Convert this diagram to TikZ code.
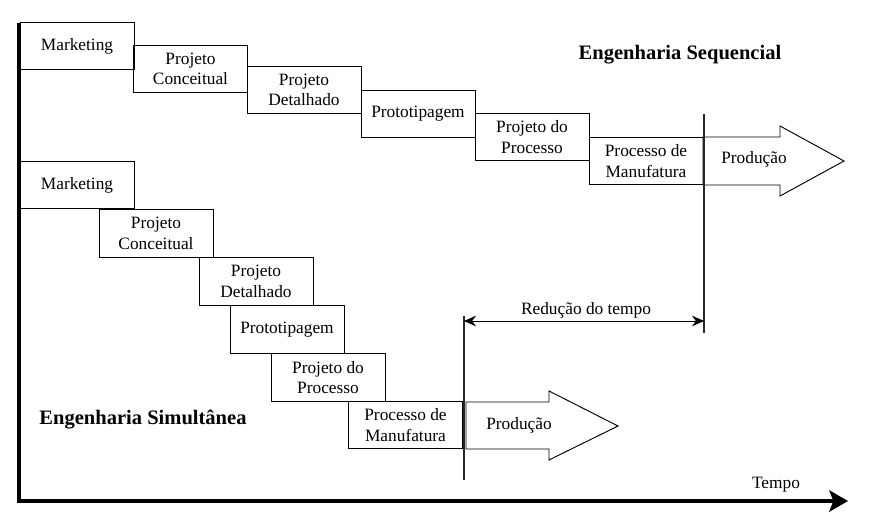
\documentclass[tikz,border=0pt]{standalone}
\usepackage{fontspec}
\setmainfont{Liberation Serif}
\usetikzlibrary{arrows.meta}
\tikzset{
  etapa/.style={draw,line width=0.7pt,minimum width=85.5pt,minimum height=35.6pt,
    inner sep=0pt,align=center,font=\fontsize{13}{15.5}\selectfont},
  rotulo/.style={inner sep=0pt,font=\fontsize{13}{15.5}\selectfont},
  titulo/.style={inner sep=0pt,font=\bfseries\fontsize{15.4}{18}\selectfont},
  producao/.style={draw,line width=0.7pt,fill=white},
  eixo/.style={line width=3.6pt,-{Stealth[length=14pt,width=16pt,inset=3pt]}},
  marco/.style={line width=0.8pt,black!85},
  cota/.style={line width=0.7pt,{Stealth[length=9pt,width=8pt]}-{Stealth[length=9pt,width=8pt]}},
}

\begin{document}
\begin{tikzpicture}[x=0.75pt,y=-0.75pt]
  \useasboundingbox (0,0) rectangle (882,518);

  % eixos
  \coordinate (eixoTopo) at (19,23);
  \coordinate (origem) at (19,501);
  \coordinate (eixoFim) at (848,501);
  \draw[eixo] (eixoTopo) -- (origem) -- (eixoFim);
  \node[rotulo] (tempo) at (776,485) {Tempo};

  % engenharia sequencial
  \node[etapa] (mkA) at (77,46) {Marketing};
  \node[etapa] (pcA) at (190.5,69) {Projeto\\Conceitual};
  \node[etapa] (pdA) at (304,90) {Projeto\\Detalhado};
  \node[etapa] (ptA) at (418,114) {Prototipagem};
  \node[etapa] (ppA) at (532,137) {Projeto do\\Processo};
  \node[etapa] (pmA) at (646,161) {Processo de\\Manufatura};
  \draw[producao] (703,137) -- (780,137) -- (780,126) -- (844,161)
    -- (780,196) -- (780,185) -- (703,185) -- cycle;
  \node[rotulo] (prodA) at (754,159) {Produção};
  \node[titulo] (seq) at (680,55) {Engenharia Sequencial};

  % engenharia simultanea
  \node[etapa] (mkB) at (77,185) {Marketing};
  \node[etapa] (pcB) at (156,233.5) {Projeto\\Conceitual};
  \node[etapa] (pdB) at (256,281.5) {Projeto\\Detalhado};
  \node[etapa] (ptB) at (287,329.5) {Prototipagem};
  \node[etapa] (ppB) at (328,377.5) {Projeto do\\Processo};
  \node[etapa] (pmB) at (405.5,425) {Processo de\\Manufatura};
  \draw[producao] (466,402) -- (549,402) -- (549,391) -- (618,426)
    -- (549,460) -- (549,449) -- (466,449) -- cycle;
  \node[rotulo] (prodB) at (519,425) {Produção};
  \node[titulo] (sim) at (143,420) {Engenharia Simultânea};

  % reducao do tempo
  \coordinate (fimA1) at (704,114);
  \coordinate (fimA2) at (704,333);
  \coordinate (fimB1) at (464,316);
  \coordinate (fimB2) at (464,480);
  \draw[marco] (fimA1) -- (fimA2);
  \draw[marco] (fimB1) -- (fimB2);
  \coordinate (redE) at (464,321);
  \coordinate (redD) at (704,321);
  \draw[cota] (redE) -- (redD);
  \node[rotulo] (reducao) at (586,310) {Redução do tempo};
\end{tikzpicture}
\end{document}
